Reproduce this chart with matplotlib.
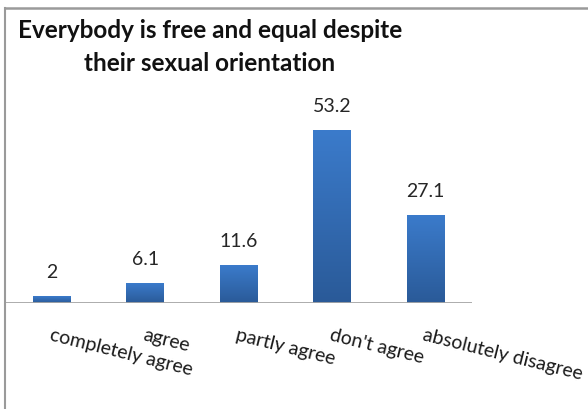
import numpy as np
import matplotlib
matplotlib.use("Agg")
import matplotlib.pyplot as plt
from matplotlib.lines import Line2D
from matplotlib.colors import LinearSegmentedColormap

categories = ["completely agree", "agree", "partly agree", "don't agree", "absolutely disagree"]
values = [2, 6.1, 11.6, 53.2, 27.1]
title_lines = ["Everybody is free and equal despite", "their sexual orientation"]

plt.rcParams["font.family"] = ["Lato", "DejaVu Sans"]

W, H = 588, 409
fig = plt.figure(figsize=(W / 100, H / 100), dpi=100)
fig.patch.set_facecolor("white")

# axes placement in pixels
left_px, right_px = 5, 472
base_px, top_px = 302.7, 108
ax = fig.add_axes([left_px / W, (H - base_px) / H, (right_px - left_px) / W, (base_px - top_px) / H])
ax.set_xlim(-0.5, len(categories) - 0.5)
ax.set_ylim(0, 60)

x = np.arange(len(categories))
bars = ax.bar(x, values, width=0.4, color="#3369b0", zorder=2)

# vertical gradient fill on each bar
cmap = LinearSegmentedColormap.from_list("bluegrad", ["#2a5a98", "#3b7bcb"])
grad = np.linspace(0, 1, 256).reshape(-1, 1)
for b in bars:
    x0 = b.get_x()
    im = ax.imshow(grad, extent=[x0, x0 + b.get_width(), 0, b.get_height()],
                   origin="lower", aspect="auto", cmap=cmap, zorder=3)
    im.set_clip_path(b)
ax.set_xlim(-0.5, len(categories) - 0.5)
ax.set_ylim(0, 60)

# value labels
for xi, v in zip(x, values):
    ax.annotate(f"{v:g}", xy=(xi, v), xytext=(0, 13), textcoords="offset points",
                ha="center", va="baseline", fontsize=14, color="#262626")

for s in ax.spines.values():
    s.set_visible(False)
ax.set_xticks([])
ax.set_yticks([])
ax.axhline(0, color="#a6a6a6", lw=1.3, zorder=4)

# rotated category labels hanging from each category position
for xi, lab in zip(x, categories):
    ax.annotate(lab, xy=(xi, 0), xytext=(0, -17), textcoords="offset points",
                ha="left", va="top", rotation=-14, rotation_mode="anchor",
                fontsize=14, color="#1a1a1a")

# chart frame (top and left edges)
fig.add_artist(Line2D([4.5 / W, 1], [1 - 7.5 / H, 1 - 7.5 / H], transform=fig.transFigure,
                      color="#9a9a9a", lw=1.8))
fig.add_artist(Line2D([4.5 / W, 4.5 / W], [0, 1 - 7.5 / H], transform=fig.transFigure,
                      color="#9a9a9a", lw=1.5))

# title
fig.text(210 / W, 1 - 37.7 / H, title_lines[0], ha="center", va="baseline",
         fontsize=17.5, fontweight="bold", color="#111111")
fig.text(210 / W, 1 - 71 / H, title_lines[1], ha="center", va="baseline",
         fontsize=17.5, fontweight="bold", color="#111111")

fig.savefig("out.png", dpi=100, facecolor="white")
